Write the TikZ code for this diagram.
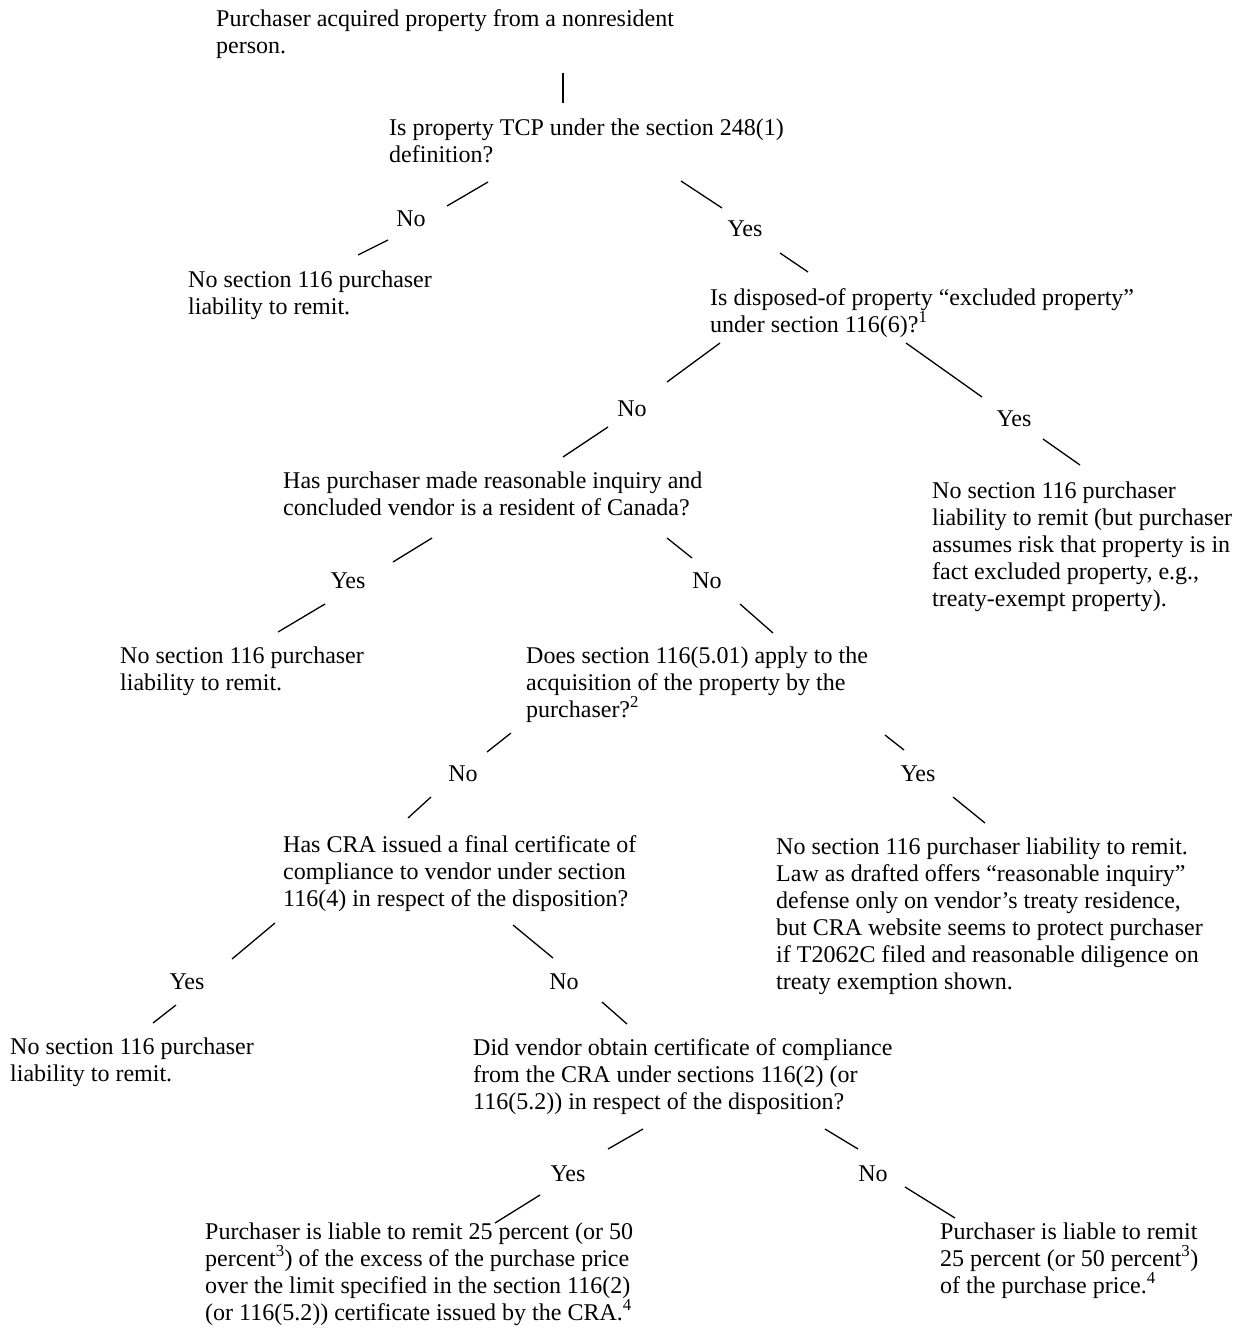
\documentclass[tikz,border=0pt]{standalone}
\usepackage{fontspec}
\setmainfont{Liberation Serif}
\begin{document}
\begin{tikzpicture}[x=1pt,y=-1pt,
  txt/.style={anchor=base west, align=left, inner sep=0pt, font=\fontsize{24}{27}\selectfont},
  lbl/.style={anchor=base, inner sep=0pt, font=\fontsize{24}{27}\selectfont},
  seg/.style={line width=1.3pt}]
\useasboundingbox (0,0) rectangle (1239,1336);
% question / leaf nodes (positioned by the baseline of their last line)
\node[txt] (A) at (216,53) {Purchaser acquired property from a nonresident\\person.};
\node[txt] (B) at (389,162) {Is property TCP under the section 248(1)\\definition?};
\node[txt] (L1) at (188,314) {No section 116 purchaser\\liability to remit.};
\node[txt] (C) at (710,332) {Is disposed-of property “excluded property”\\under section 116(6)?\textsuperscript{1}};
\node[txt] (L2) at (932,606) {No section 116 purchaser\\liability to remit (but purchaser\\assumes risk that property is in\\fact excluded property, e.g.,\\treaty-exempt property).};
\node[txt] (D) at (283,515) {Has purchaser made reasonable inquiry and\\concluded vendor is a resident of Canada?};
\node[txt] (L3) at (120,690) {No section 116 purchaser\\liability to remit.};
\node[txt] (E) at (526,717) {Does section 116(5.01) apply to the\\acquisition of the property by the\\purchaser?\textsuperscript{2}};
\node[txt] (F) at (283,906) {Has CRA issued a final certificate of\\compliance to vendor under section\\116(4) in respect of the disposition?};
\node[txt] (G) at (776,989) {No section 116 purchaser liability to remit.\\Law as drafted offers “reasonable inquiry”\\defense only on vendor’s treaty residence,\\but CRA website seems to protect purchaser\\if T2062C filed and reasonable diligence on\\treaty exemption shown.};
\node[txt] (L4) at (10,1081) {No section 116 purchaser\\liability to remit.};
\node[txt] (H) at (473,1109) {Did vendor obtain certificate of compliance\\from the CRA under sections 116(2) (or\\116(5.2)) in respect of the disposition?};
\node[txt] (I) at (205,1320) {Purchaser is liable to remit 25 percent (or 50\\percent\textsuperscript{3}) of the excess of the purchase price\\over the limit specified in the section 116(2)\\(or 116(5.2)) certificate issued by the CRA.\textsuperscript{4}};
\node[txt] (J) at (940,1293) {Purchaser is liable to remit\\25 percent (or 50 percent\textsuperscript{3})\\of the purchase price.\textsuperscript{4}};
% labels
\node[lbl] (nB) at (411,226) {No};
\node[lbl] (yB) at (745,236) {Yes};
\node[lbl] (nC) at (632,416) {No};
\node[lbl] (yC) at (1014,426) {Yes};
\node[lbl] (yD) at (348,588) {Yes};
\node[lbl] (nD) at (707,588) {No};
\node[lbl] (nE) at (463,781) {No};
\node[lbl] (yE) at (918,781) {Yes};
\node[lbl] (yF) at (187,989) {Yes};
\node[lbl] (nF) at (564,989) {No};
\node[lbl] (yH) at (568,1181) {Yes};
\node[lbl] (nH) at (873,1181) {No};
% segment end points
\coordinate (a1) at (563,73); \coordinate (a2) at (563,103);
\coordinate (b1) at (488,182); \coordinate (b2) at (447,206);
\coordinate (b3) at (388,240); \coordinate (b4) at (358,255);
\coordinate (b5) at (681,181); \coordinate (b6) at (722,208);
\coordinate (b7) at (780,253); \coordinate (b8) at (808,272);
\coordinate (c1) at (720,343); \coordinate (c2) at (667,382);
\coordinate (c3) at (608,427); \coordinate (c4) at (563,457);
\coordinate (c5) at (906,343); \coordinate (c6) at (982,397);
\coordinate (c7) at (1043,439); \coordinate (c8) at (1080,465);
\coordinate (d1) at (432,538); \coordinate (d2) at (393,562);
\coordinate (d3) at (325,604); \coordinate (d4) at (278,632);
\coordinate (d5) at (667,538); \coordinate (d6) at (692,558);
\coordinate (d7) at (740,604); \coordinate (d8) at (773,633);
\coordinate (e1) at (511,733); \coordinate (e2) at (487,752);
\coordinate (e3) at (431,797); \coordinate (e4) at (408,818);
\coordinate (e5) at (885,735); \coordinate (e6) at (904,750);
\coordinate (e7) at (953,797); \coordinate (e8) at (985,823);
\coordinate (f1) at (275,923); \coordinate (f2) at (232,959);
\coordinate (f3) at (176,1005); \coordinate (f4) at (153,1023);
\coordinate (f5) at (513,925); \coordinate (f6) at (553,958);
\coordinate (f7) at (602,1002); \coordinate (f8) at (627,1024);
\coordinate (h1) at (643,1129); \coordinate (h2) at (608,1149);
\coordinate (h3) at (540,1195); \coordinate (h4) at (495,1223);
\coordinate (h5) at (825,1129); \coordinate (h6) at (858,1149);
\coordinate (h7) at (905,1187); \coordinate (h8) at (955,1218);
\foreach \p/\q in {a1/a2,b1/b2,b3/b4,b5/b6,b7/b8,c1/c2,c3/c4,c5/c6,c7/c8,d1/d2,d3/d4,d5/d6,d7/d8,e1/e2,e3/e4,e5/e6,e7/e8,f1/f2,f3/f4,f5/f6,f7/f8,h1/h2,h3/h4,h5/h6,h7/h8}
  \draw[seg] (\p) -- (\q);
\end{tikzpicture}
\end{document}
